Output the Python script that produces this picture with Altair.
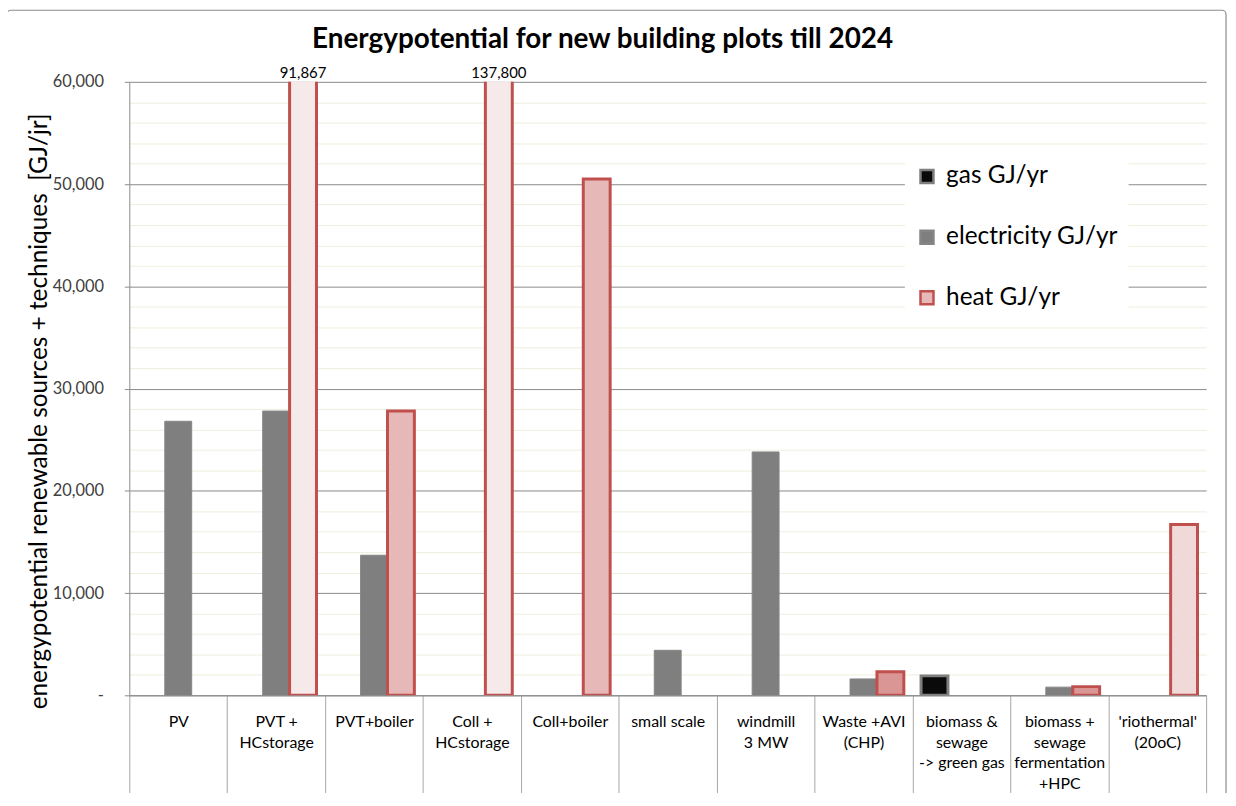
import altair as alt
import pandas as pd

categories = ["PV", "PVT +\nHCstorage", "PVT+boiler", "Coll +\nHCstorage", "Coll+boiler",
              "small scale", "windmill\n3 MW", "Waste +AVI\n(CHP)",
              "biomass &\nsewage\n-> green gas", "biomass +\nsewage\nfermentation\n+HPC",
              "'riothermal'\n(20oC)"]
gas = [0, 0, 0, 0, 0, 0, 0, 0, 1900, 0, 0]
electricity = [26800, 27800, 13700, 0, 0, 4400, 23800, 1600, 0, 800, 0]
heat = [0, 91867, 27800, 137800, 50500, 0, 0, 2300, 0, 850, 16700]
heat_shade = ["", "heat light", "heat GJ/yr", "heat light", "heat GJ/yr", "", "",
              "heat dark", "", "heat dark", "heat pale"]
series = ["gas GJ/yr", "electricity GJ/yr", "heat GJ/yr"]
chart_title = "Energypotential for new building plots till 2024"
y_title = "energypotential renewable sources + techniques \u00a0[GJ/jr]"

color_keys = ["gas GJ/yr", "electricity GJ/yr", "heat GJ/yr", "heat light", "heat dark", "heat pale"]
fill_colors = ["#0a0a0a", "#7f7f7f", "#e6b8b7", "#f6e9e9", "#da9694", "#f2d9d9"]
stroke_colors = ["#7f7f7f", "#858585", "#c0504d", "#c0504d", "#c0504d", "#c0504d"]

rows = []
for i, c in enumerate(categories):
    if gas[i]:
        rows.append({"cat": c, "series": series[0], "key": series[0], "value": gas[i]})
    if electricity[i]:
        rows.append({"cat": c, "series": series[1], "key": series[1], "value": electricity[i]})
    if heat[i]:
        rows.append({"cat": c, "series": series[2], "key": heat_shade[i], "value": heat[i]})
df = pd.DataFrame(rows)

YMAX = 60000
FONT = "Lato"

x_enc = alt.X("cat:N", sort=categories, scale=alt.Scale(domain=categories, paddingInner=0, paddingOuter=0),
              axis=alt.Axis(title=None, labelAngle=0, labelExpr="split(datum.label, '\\n')",
                            labelFontSize=16, labelFont=FONT, labelColor="#000000",
                            labelLineHeight=21, labelBaseline="top", labelPadding=-82,
                            tickBand="extent", tickSize=100, tickColor="#a6a6a6",
                            domainColor="#868686", labelLimit=0))
xoff_enc = alt.XOffset("series:N", scale=alt.Scale(domain=series, paddingInner=0, paddingOuter=0.32))

y_enc = alt.Y("value:Q", scale=alt.Scale(domain=[0, YMAX], nice=False),
              axis=alt.Axis(values=list(range(0, YMAX + 1, 2000)),
                            labelExpr="datum.value % 10000 != 0 ? '' : (datum.value == 0 ? '-' : format(datum.value, ','))",
                            gridColor=alt.condition("datum.value % 10000 == 0", alt.value("#8a8a8a"), alt.value("#eeeedd")),
                            tickOpacity=alt.condition("datum.value % 10000 == 0", alt.value(1), alt.value(0)),
                            tickSize=5, tickColor="#8a8a8a", domainColor="#8a8a8a",
                            labelFontSize=16.5, labelFont=FONT, labelColor="#404040", labelPadding=21,
                            title=y_title,
                            titleFontSize=24.5, titleFont=FONT, titleFontWeight="normal", titleColor="#000000",
                            titleX=-90, titleY=331, titleAlign="center", titleBaseline="middle"))

legend = alt.Legend(title=None, values=series, orient="none", legendX=780, legendY=73,
                    fillColor="white", padding=10, rowPadding=36, symbolType="square",
                    symbolSize=170, symbolStrokeWidth=2.5, labelFontSize=24.5, labelFont=FONT,
                    labelColor="#000000", labelOffset=7, labelLimit=0)

bars = alt.Chart(df).mark_bar(clip=True).encode(
    x=x_enc,
    xOffset=xoff_enc,
    y=y_enc,
    fill=alt.Fill("key:N", scale=alt.Scale(domain=color_keys, range=fill_colors), legend=legend),
    stroke=alt.Stroke("key:N", scale=alt.Scale(domain=color_keys, range=stroke_colors), legend=legend),
    strokeWidth=alt.condition("datum.series == 'electricity GJ/yr'", alt.value(1), alt.value(3)),
)

over = alt.Chart(df).transform_filter(f"datum.value > {YMAX}").mark_text(
    baseline="bottom", dy=-1, fontSize=15, font=FONT, color="#000000"
).encode(
    x=alt.X("cat:N", sort=categories),
    xOffset=alt.XOffset("series:N"),
    y=alt.value(0),
    text=alt.Text("value:Q", format=","),
)

frame = alt.Chart(pd.DataFrame({"f": [1]})).mark_rect(
    fillOpacity=0, stroke="#8c8c8c", strokeWidth=1.2, cornerRadius=4
).encode(
    x=alt.value(-123), x2=alt.value(1103), y=alt.value(-72), y2=alt.value(820)
)

title = alt.Chart(pd.DataFrame({"t": [chart_title]})).mark_text(
    fontSize=28, font=FONT, fontWeight="bold", color="#000000", align="center", baseline="alphabetic"
).encode(
    x=alt.value(476), y=alt.value(-34), text="t:N"
)

chart = alt.layer(bars, over, frame, title).properties(
    width=1083, height=617,
    autosize=alt.AutoSizeParams(type="none"),
    padding={"left": 122, "top": 72, "right": 22, "bottom": 96},
).configure_view(stroke=None)

chart.save("out.html", embed_options={"renderer": "svg", "actions": False})
